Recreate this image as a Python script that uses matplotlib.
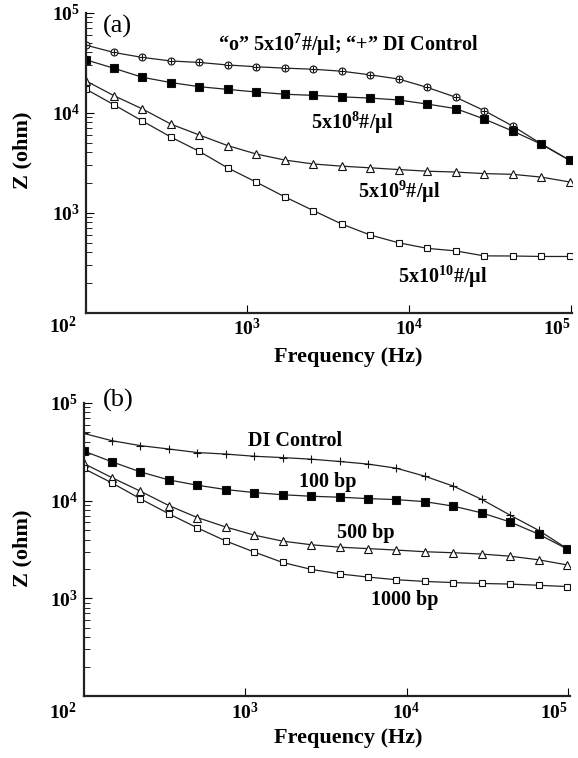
import matplotlib
matplotlib.use("Agg")
import matplotlib.pyplot as plt
from matplotlib.ticker import LogLocator, NullLocator, FixedLocator, FuncFormatter

plt.rcParams['font.family'] = ['Liberation Serif', 'DejaVu Serif']
plt.rcParams['font.weight'] = 'bold'
plt.rcParams['mathtext.fontset'] = 'custom'
plt.rcParams['mathtext.rm'] = 'Liberation Serif:bold'
plt.rcParams['mathtext.bf'] = 'Liberation Serif:bold'
plt.rcParams['mathtext.it'] = 'Liberation Serif:bold'

# frequency points (Hz), same for both panels
freq = [100, 150, 225, 338, 506, 759, 1139, 1709, 2563, 3844,
        5767, 8650, 12975, 19462, 29193, 43789, 65684, 98526]

# panel (a): bead concentration
z_5e7 = [47500, 40000, 35700, 32900, 31800, 30000, 28800, 27900, 27200, 26000,
         23900, 21700, 17900, 14300, 10500, 7360, 4900, 3350]
z_di_a = [47500, 40000, 35700, 32900, 31800, 30000, 28800, 27900, 27200, 26000,
          23900, 21700, 17900, 14300, 10500, 7360, 4900, 3350]
z_5e8 = [33900, 27800, 22600, 20000, 18200, 17100, 16100, 15300, 14900, 14400,
         14000, 13400, 12200, 11000, 8650, 6560, 4850, 3340]
z_5e9 = [20900, 14800, 10900, 7680, 5980, 4680, 3860, 3360, 3070, 2920,
         2810, 2700, 2600, 2550, 2460, 2420, 2270, 2030]
z_5e10 = [17300, 12000, 8250, 5700, 4100, 2800, 2020, 1440, 1050, 770,
          598, 500, 440, 415, 370, 369, 365, 365]

# panel (b): DNA length
z_di_b = [48900, 41100, 36600, 33800, 31100, 30000, 28500, 27600, 26600, 25200,
          23700, 21500, 17800, 14100, 10300, 7100, 4970, 3230]
z_100bp = [32300, 25000, 19700, 16300, 14400, 13000, 12100, 11500, 11100, 10850,
           10500, 10250, 9770, 8790, 7500, 6050, 4540, 3200]
z_500bp = [24100, 17200, 12500, 8900, 6720, 5380, 4440, 3850, 3540, 3340,
           3230, 3120, 3000, 2930, 2840, 2700, 2480, 2200]
z_1000bp = [21400, 15200, 10450, 7330, 5270, 3870, 2980, 2330, 1980, 1780,
            1650, 1550, 1490, 1450, 1420, 1400, 1360, 1320]

W, H = 578, 758
fig = plt.figure(figsize=(W / 100, H / 100), dpi=100)


def px_axes(left, top, right, bottom):
    return fig.add_axes([left / W, 1 - bottom / H, (right - left) / W, (bottom - top) / H])


def ftext(x, y, s, **kw):
    fig.text(x / W, 1 - y / H, s, ha=kw.pop('ha', 'center'), va=kw.pop('va', 'center'), **kw)


def style_axes(ax):
    ax.set_xscale('log')
    ax.set_yscale('log')
    ax.set_xlim(100, 1.02e5)
    ax.set_ylim(100, 1e5)
    for s in ['top', 'right']:
        ax.spines[s].set_visible(False)
    for s in ['left', 'bottom']:
        ax.spines[s].set_linewidth(1.6)
        ax.spines[s].set_color('#222222')
    ax.xaxis.set_major_locator(FixedLocator([1e3, 1e4, 1e5]))
    ax.yaxis.set_major_locator(FixedLocator([1e3, 1e4, 1e5]))
    ax.xaxis.set_minor_locator(NullLocator())
    ax.yaxis.set_minor_locator(LogLocator(base=10, subs=range(2, 10)))
    fmt = FuncFormatter(lambda v, p: r'$10^{%d}$' % round(__import__('math').log10(v)))
    ax.xaxis.set_major_formatter(fmt)
    ax.yaxis.set_major_formatter(fmt)
    ax.yaxis.set_minor_formatter(FuncFormatter(lambda v, p: ''))
    ax.tick_params(which='major', direction='in', length=6, width=0.8, labelsize=14, pad=4)
    ax.tick_params(which='minor', direction='in', length=4, width=0.6)
    ax.get_xticklabels()[-1].set_ha('right')
    ax.patch.set_alpha(0)


line_kw = dict(color='#222222', lw=0.9, mec='#111111', mew=0.8)

# ---- panel (a)
ax1 = px_axes(85.5, 12.7, 572, 312.7)
style_axes(ax1)
ax1.plot(freq, z_5e7, marker='o', ms=5, mfc='white', **line_kw)
ax1.plot(freq, z_di_a, marker='+', ms=5, ls='none', color='#111111', mew=0.8)
ax1.plot(freq, z_5e8, marker='s', ms=5.5, mfc='black', **line_kw)
ax1.plot(freq, z_5e9, marker='^', ms=5.5, mfc='white', **line_kw)
ax1.plot(freq, z_5e10, marker='s', ms=4.5, mfc='white', **line_kw)

ftext(117, 26, '(a)', fontsize=19, fontweight='normal')
ftext(348, 45, '\u201co\u201d 5x10$^{7}$#/\u00b5l; \u201c+\u201d DI Control', fontsize=14.5)
ftext(352, 123, '5x10$^{8}$#/\u00b5l', fontsize=14.5)
ftext(399, 192, '5x10$^{9}$#/\u00b5l', fontsize=14.5)
ftext(443, 277, '5x10$^{10}$#/\u00b5l', fontsize=14.5)
ftext(63, 327, '$10^{2}$', fontsize=14)
ftext(348, 357, 'Frequency (Hz)', fontsize=16)
ftext(22, 150, 'Z (ohm)', fontsize=16, rotation=90)

# ---- panel (b)
ax2 = px_axes(83.5, 403, 569.5, 696)
style_axes(ax2)
ax2.plot(freq, z_di_b, marker='+', ms=6, mfc='white', **line_kw)
ax2.plot(freq, z_100bp, marker='s', ms=5.5, mfc='black', **line_kw)
ax2.plot(freq, z_500bp, marker='^', ms=5.5, mfc='white', **line_kw)
ax2.plot(freq, z_1000bp, marker='s', ms=4.5, mfc='white', **line_kw)

ftext(118, 400, '(b)', fontsize=19, fontweight='normal')
ftext(295, 441, 'DI Control', fontsize=14.5)
ftext(328, 482, '100 bp', fontsize=14.5)
ftext(366, 533, '500 bp', fontsize=14.5)
ftext(405, 600, '1000 bp', fontsize=14.5)
ftext(63, 713, '$10^{2}$', fontsize=14)
ftext(348, 738, 'Frequency (Hz)', fontsize=16)
ftext(22, 548, 'Z (ohm)', fontsize=16, rotation=90)

fig.savefig('out.png', dpi=100)
